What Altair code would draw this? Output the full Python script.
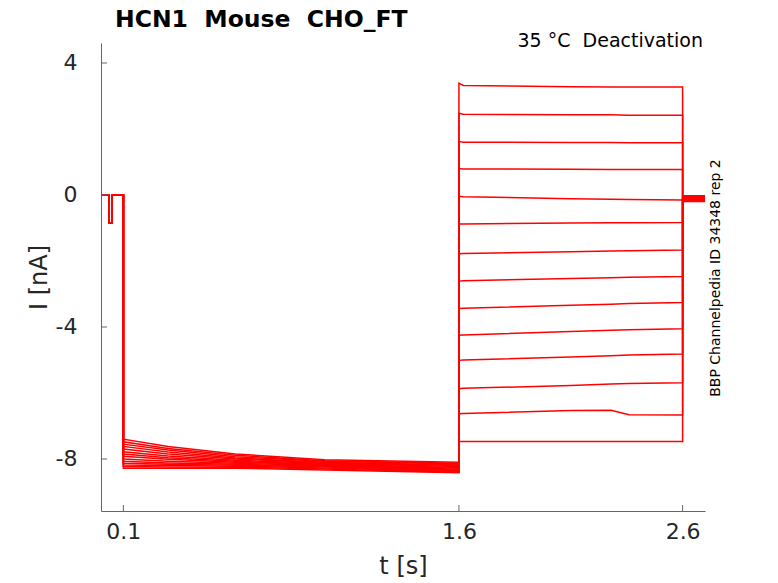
import altair as alt
import pandas as pd

# ---- data ----
# holding segment + short test pulse (same for every sweep)
pre_t = [0.0, 0.036, 0.036, 0.049, 0.049, 0.1]
pre_i = [0.0, 0.0, -0.84, -0.84, 0.0, 0.0]

# activation step (0.1 s -> 1.6 s), one value per sweep at each time
act_t = [0.1, 0.3, 0.6, 1.0, 1.6]
act_010 = [-7.40, -7.48, -7.55, -7.62, -7.70, -7.78, -7.85, -7.92, -8.00, -8.07, -8.13, -8.18, -8.23, -8.28]
act_030 = [-7.62, -7.68, -7.73, -7.79, -7.85, -7.91, -7.96, -8.01, -8.07, -8.12, -8.16, -8.20, -8.24, -8.28]
act_060 = [-7.85, -7.89, -7.93, -7.97, -8.00, -8.04, -8.07, -8.10, -8.13, -8.16, -8.19, -8.22, -8.25, -8.28]
act_100 = [-8.02, -8.05, -8.07, -8.10, -8.12, -8.14, -8.16, -8.18, -8.20, -8.22, -8.24, -8.27, -8.30, -8.33]
act_160 = [-8.10, -8.13, -8.15, -8.18, -8.20, -8.23, -8.26, -8.28, -8.31, -8.33, -8.36, -8.38, -8.40, -8.42]

# deactivation (tail) step (1.6 s -> 2.6 s)
tail_t = [1.6, 1.62, 2.1, 2.28, 2.36, 2.6]
tail_160 = [3.39, 2.48, 1.62, 0.80, -0.04, -0.88, -1.78, -2.61, -3.44, -4.25, -5.01, -5.87, -6.63, -7.47]
tail_162 = [3.32, 2.45, 1.60, 0.79, -0.05, -0.88, -1.77, -2.60, -3.43, -4.24, -5.00, -5.86, -6.62, -7.47]
tail_210 = [3.28, 2.43, 1.59, 0.78, -0.11, -0.85, -1.72, -2.53, -3.34, -4.14, -4.91, -5.77, -6.53, -7.47]
tail_228 = [3.27, 2.43, 1.59, 0.77, -0.13, -0.84, -1.70, -2.51, -3.31, -4.10, -4.87, -5.73, -6.52, -7.47]
tail_236 = [3.27, 2.42, 1.58, 0.77, -0.14, -0.84, -1.69, -2.49, -3.29, -4.08, -4.85, -5.71, -6.66, -7.47]
tail_260 = [3.27, 2.42, 1.58, 0.77, -0.15, -0.83, -1.67, -2.47, -3.26, -4.05, -4.82, -5.69, -6.67, -7.47]

# back to holding after 2.6 s
post_t = [2.6, 2.7]
post_i = [-0.02, -0.05, -0.08, -0.10, -0.12, -0.15, -0.18, -0.03, -0.06, -0.09, -0.11, -0.14, -0.17, -0.20]

x_ticks = [0.1, 1.6, 2.6]
y_ticks = [-8, -4, 0, 4]

NB = "\u00a0"
title_text = f"HCN1{NB}{NB}Mouse{NB}{NB}CHO_FT"
cond_text = f"35{NB}°C{NB}{NB}Deactivation"
side_text = "BBP Channelpedia ID 34348 rep 2"

# ---- build long table ----
act_cols = [act_010, act_030, act_060, act_100, act_160]
tail_cols = [tail_160, tail_162, tail_210, tail_228, tail_236, tail_260]
rows = []
for k in range(len(act_010)):
    pts = list(zip(pre_t, pre_i))
    pts += [(t, col[k]) for t, col in zip(act_t, act_cols)]
    pts += [(t, col[k]) for t, col in zip(tail_t, tail_cols)]
    pts += [(t, post_i[k]) for t in post_t]
    for j, (t, v) in enumerate(pts):
        rows.append({"trace": k, "idx": j, "t": t, "I": v})
df = pd.DataFrame(rows)

W, H = 604, 468
FONT = "DejaVu Sans"
AX = "#666666"
TXT = "#262626"

xscale = alt.Scale(domain=[0, 2.7], nice=False, zero=False)
yscale = alt.Scale(domain=[-9.576, 4.606], nice=False, zero=False)

lines = alt.Chart(df).mark_line(color="#ff0000", strokeWidth=1.5, clip=True).encode(
    x=alt.X("t:Q", scale=xscale,
            axis=alt.Axis(values=x_ticks, title="t [s]", grid=False, tickSize=0,
                          labelPadding=10, titlePadding=12, domainColor=AX,
                          labelExpr="'' + datum.value")),
    y=alt.Y("I:Q", scale=yscale,
            axis=alt.Axis(values=y_ticks, title="I [nA]", grid=False, tickSize=0,
                          labelPadding=24, titlePadding=4, domainColor=AX,
                          labelExpr="'' + datum.value")),
    detail="trace:N",
    order="idx:Q",
)

xt = alt.Chart(pd.DataFrame({"t": x_ticks})).mark_rule(color=AX, strokeWidth=1).encode(
    x=alt.X("t:Q", scale=xscale), y=alt.value(H - 6), y2=alt.value(H))
yt = alt.Chart(pd.DataFrame({"I": y_ticks})).mark_rule(color=AX, strokeWidth=1).encode(
    y=alt.Y("I:Q", scale=yscale), x=alt.value(0), x2=alt.value(6))

ttl = alt.Chart(pd.DataFrame({"s": [title_text]})).mark_text(
    align="left", baseline="alphabetic", fontSize=23.5, fontWeight="bold", font=FONT, color="black"
).encode(text="s:N", x=alt.value(14), y=alt.value(-16))

cond = alt.Chart(pd.DataFrame({"s": [cond_text]})).mark_text(
    align="right", baseline="alphabetic", fontSize=19, font=FONT, color="black"
).encode(text="s:N", x=alt.value(602), y=alt.value(4))

side = alt.Chart(pd.DataFrame({"s": [side_text]})).mark_text(
    align="center", baseline="middle", angle=270, fontSize=14, font=FONT, color="black"
).encode(text="s:N", x=alt.value(615), y=alt.value(235))

chart = alt.layer(lines, xt, yt, ttl, cond, side).properties(
    width=W, height=H,
    autosize=alt.AutoSizeParams(type="none"),
    padding={"left": 93, "top": 35, "right": 60, "bottom": 70},
).configure_view(stroke=None).configure_axis(
    labelFont=FONT, titleFont=FONT, labelFontSize=22, titleFontSize=24,
    labelColor=TXT, titleColor=TXT, titleFontWeight="normal", domainWidth=1,
)

chart.save("out.html", embed_options={"renderer": "svg", "actions": False})
